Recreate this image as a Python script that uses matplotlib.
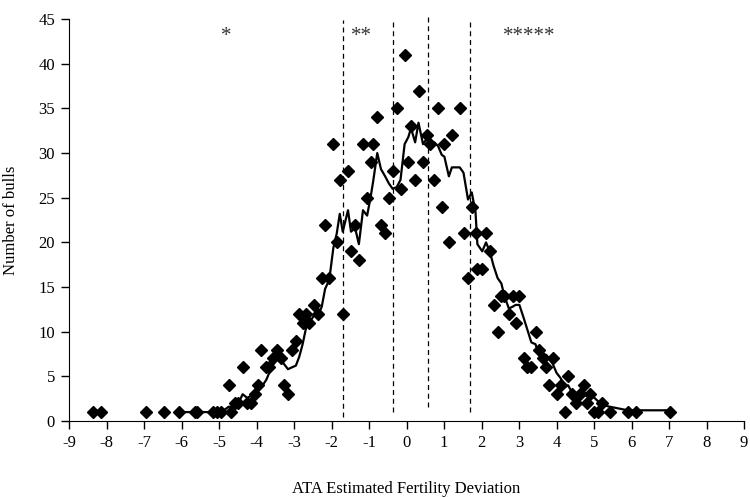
import numpy as np
import pandas as pd
import matplotlib
matplotlib.use('Agg')
from matplotlib import pyplot as plt

# fertility deviation (x) and number of bulls (y)
deviation = [-8.36, -8.16, -6.94, -6.46, -6.07, -5.63, -5.59, -5.16, -5.05, -4.94,
             -4.74, -4.69, -4.58, -4.48, -4.37, -4.25, -4.15, -4.05, -3.95, -3.87,
             -3.74, -3.66, -3.57, -3.46, -3.36, -3.27, -3.16, -3.06, -2.95, -2.86,
             -2.77, -2.68, -2.59, -2.47, -2.36, -2.26, -2.17, -2.06, -1.95, -1.86,
             -1.78, -1.70, -1.56, -1.48, -1.37, -1.27, -1.16, -1.05, -0.96, -0.89,
             -0.78, -0.68, -0.57, -0.47, -0.37, -0.26, -0.16, -0.05, 0.05, 0.12,
             0.23, 0.32, 0.44, 0.54, 0.63, 0.74, 0.84, 0.94, 1.01, 1.13,
             1.21, 1.42, 1.52, 1.64, 1.74, 1.84, 1.89, 2.02, 2.12, 2.22,
             2.32, 2.43, 2.53, 2.61, 2.73, 2.83, 2.91, 3.01, 3.12, 3.21,
             3.33, 3.44, 3.53, 3.63, 3.73, 3.80, 3.90, 4.00, 4.11, 4.22,
             4.31, 4.41, 4.52, 4.62, 4.73, 4.80, 4.90, 5.01, 5.11, 5.22,
             5.42, 5.90, 6.11, 7.02]
bulls = [1, 1, 1, 1, 1, 1, 1, 1, 1, 1,
         4, 1, 2, 2, 6, 2, 2, 3, 4, 8,
         6, 6, 7, 8, 7, 4, 3, 8, 9, 12,
         11, 12, 11, 13, 12, 16, 22, 16, 31, 20,
         27, 12, 28, 19, 22, 18, 31, 25, 29, 31,
         34, 22, 21, 25, 28, 35, 26, 41, 29, 33,
         27, 37, 29, 32, 31, 27, 35, 24, 31, 20,
         32, 35, 21, 16, 24, 21, 17, 17, 21, 19,
         13, 10, 14, 14, 12, 14, 11, 14, 7, 6,
         6, 10, 8, 7, 6, 4, 7, 3, 4, 1,
         5, 3, 2, 3, 4, 2, 3, 1, 1, 2,
         1, 1, 1, 1]

# class boundaries (dashed) and star labels
cut_x = [-1.69, -0.37, 0.56, 1.70]
cut_lo = [0.5, 1.0, 1.6, 1.0]
cut_hi = [44.9, 44.9, 45.5, 44.9]
star_x = [-4.8, -1.21, 3.26]
star_txt = ['*', '**', '*****']

df = pd.DataFrame({'dev': deviation, 'n': bulls}).sort_values('dev')
# 5 point moving average trendline
df['ma'] = df['n'].rolling(5).mean()

plt.rcParams['font.family'] = ['Liberation Serif', 'DejaVu Serif']
plt.rcParams['axes.unicode_minus'] = False

fig = plt.figure(figsize=(7.5, 4.98), dpi=100)
ax = fig.add_axes([0.092, 0.1546, 0.9, 0.807])

ax.plot(df['dev'], df['n'], linestyle='none', marker='D', markersize=6,
        color='black', zorder=3)
ax.plot(df['dev'], df['ma'], color='black', linewidth=1.6, zorder=2)

for x, lo, hi in zip(cut_x, cut_lo, cut_hi):
    ax.plot([x, x], [lo, hi], color='black', linewidth=0.9,
            linestyle=(0, (4, 3)), clip_on=False)

for x, t in zip(star_x, star_txt):
    ax.text(x, 43.0, t, ha='center', va='center', fontsize=15, color='#333333')

ax.set_xlim(-9, 9)
ax.set_ylim(0, 45)
ax.set_xticks(range(-9, 10))
ax.set_yticks(range(0, 46, 5))
ax.spines['top'].set_visible(False)
ax.spines['right'].set_visible(False)
ax.tick_params(direction='out', length=6, width=1, labelsize=12, color='black')
ax.tick_params(axis='x', pad=4)
ax.tick_params(axis='y', pad=4)
ax.set_xlabel('ATA Estimated Fertility Deviation', fontsize=12, labelpad=22)
ax.set_ylabel('Number of bulls', fontsize=12, labelpad=14)

fig.savefig('out.png', dpi=100)
